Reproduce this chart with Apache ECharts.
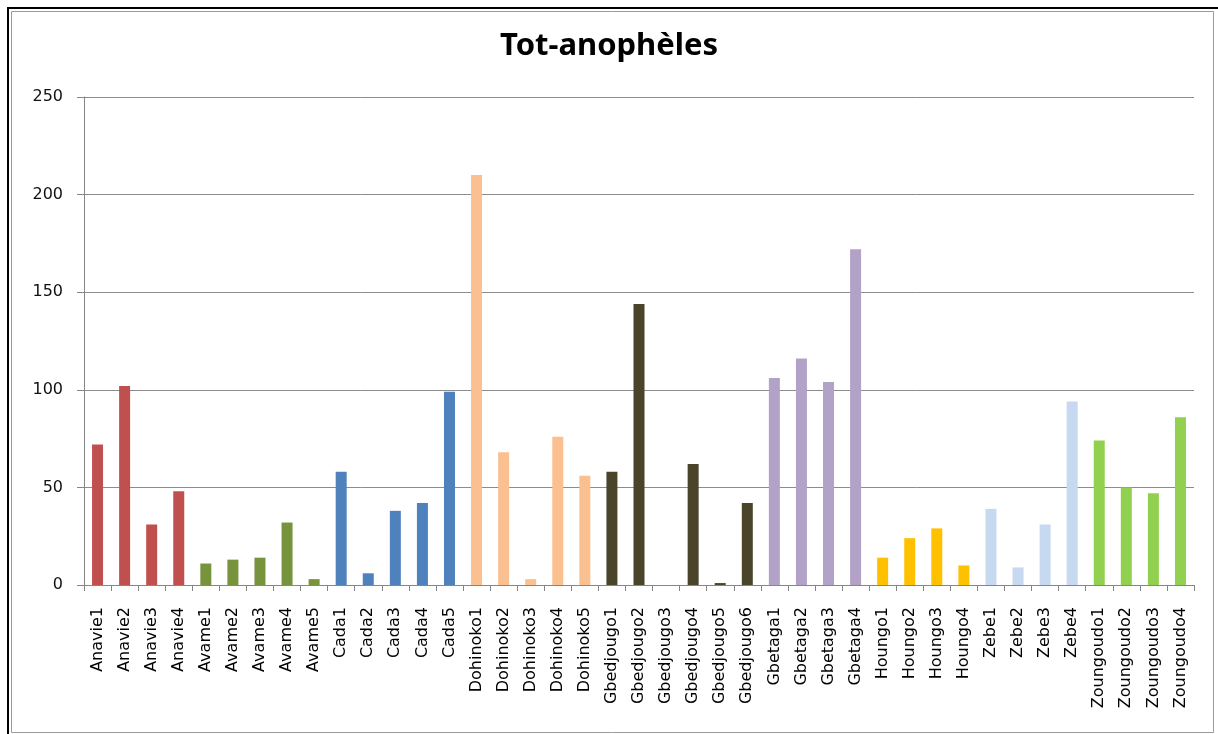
<!DOCTYPE html>
<html>
<head>
<meta charset="utf-8">
<script src="https://cdn.jsdelivr.net/npm/echarts@6/dist/echarts.min.js"></script>
<style>
html,body{margin:0;padding:0;background:#fff;}
#c{width:1218px;height:734px;}
</style>
</head>
<body>
<div id="c"></div>
<script>
const categories = ["Anavie1","Anavie2","Anavie3","Anavie4","Avame1","Avame2","Avame3","Avame4","Avame5","Cada1","Cada2","Cada3","Cada4","Cada5","Dohinoko1","Dohinoko2","Dohinoko3","Dohinoko4","Dohinoko5","Gbedjougo1","Gbedjougo2","Gbedjougo3","Gbedjougo4","Gbedjougo5","Gbedjougo6","Gbetaga1","Gbetaga2","Gbetaga3","Gbetaga4","Houngo1","Houngo2","Houngo3","Houngo4","Zebe1","Zebe2","Zebe3","Zebe4","Zoungoudo1","Zoungoudo2","Zoungoudo3","Zoungoudo4"];
const values = [72,102,31,48,11,13,14,32,3,58,6,38,42,99,210,68,3,76,56,58,144,0,62,1,42,106,116,104,172,14,24,29,10,39,9,31,94,74,50,47,86];
const yTicks = [0,50,100,150,200,250];
const groupColors = {
  "Anavie":"#C0504D","Avame":"#77933C","Cada":"#4F81BD","Dohinoko":"#FAC090",
  "Gbedjougo":"#4A452A","Gbetaga":"#B3A2C7","Houngo":"#FFC000","Zebe":"#C6D9F1","Zoungoudo":"#92D050"
};
const groupOf = name => name.replace(/\d+$/,'');

const chart = echarts.init(document.getElementById('c'), null, {renderer:'canvas'});
chart.setOption({
  animation:false,
  backgroundColor:'#fff',
  title:{
    text:'Tot-anophèles', left:'center', top:26,
    textStyle:{fontFamily:'Noto Sans', fontWeight:'bold', fontSize:31, color:'#000'}
  },
  graphic:[
    {type:'rect', shape:{x:8,y:8,width:1230,height:760}, style:{fill:'none',stroke:'#000',lineWidth:2}, silent:true},
    {type:'rect', shape:{x:11.5,y:11.5,width:1202,height:721}, style:{fill:'none',stroke:'#9a9a9a',lineWidth:1}, silent:true}
  ],
  grid:{left:84, right:24, top:97, bottom:149, containLabel:false},
  xAxis:{
    type:'category', data:categories, boundaryGap:true,
    axisLine:{lineStyle:{color:'#868686', width:1}},
    axisTick:{show:true, alignWithLabel:false, length:6, lineStyle:{color:'#868686'}},
    axisLabel:{rotate:90, interval:0, margin:22, fontFamily:'DejaVu Sans', fontSize:16, color:'#000'}
  },
  yAxis:{
    type:'value', min:yTicks[0], max:yTicks[yTicks.length-1], interval:50,
    axisLine:{show:true, lineStyle:{color:'#868686'}},
    axisTick:{show:true, length:7, lineStyle:{color:'#868686'}},
    splitLine:{lineStyle:{color:'#8c8c8c', width:1}},
    axisLabel:{margin:21, fontFamily:'DejaVu Sans', fontSize:16, color:'#111'}
  },
  series:[{
    type:'bar', barWidth:11,
    data:values.map((v,i)=>({value:v, itemStyle:{color:groupColors[groupOf(categories[i])]}}))
  }]
});
</script>
</body>
</html>
